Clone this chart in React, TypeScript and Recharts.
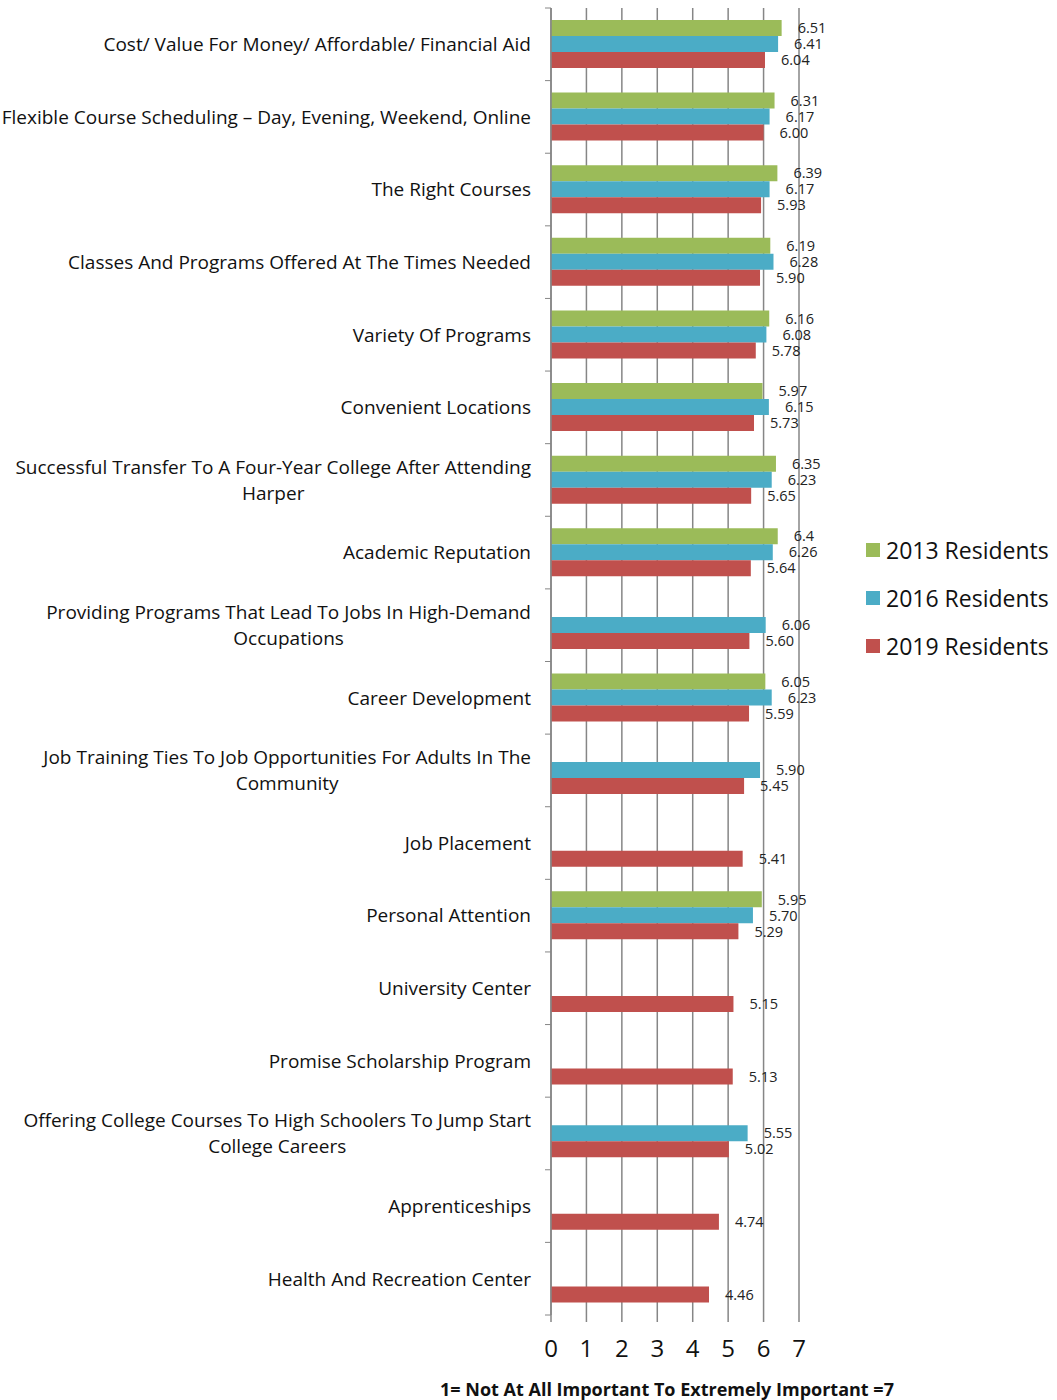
import { BarChart, Bar, XAxis, YAxis, CartesianGrid, LabelList } from 'recharts'

const CATEGORIES = [
  'Cost/ Value For Money/ Affordable/ Financial Aid',
  'Flexible Course Scheduling – Day, Evening, Weekend, Online',
  'The Right Courses',
  'Classes And Programs Offered At The Times Needed',
  'Variety Of Programs',
  'Convenient Locations',
  'Successful Transfer To A Four-Year College After Attending\nHarper',
  'Academic Reputation',
  'Providing Programs That Lead To Jobs In High-Demand\nOccupations',
  'Career Development',
  'Job Training Ties To Job Opportunities For Adults In The\nCommunity',
  'Job Placement',
  'Personal Attention',
  'University Center',
  'Promise Scholarship Program',
  'Offering College Courses To High Schoolers To Jump Start\nCollege Careers',
  'Apprenticeships',
  'Health And Recreation Center',
]

const RES_2013 = [6.51, 6.31, 6.39, 6.19, 6.16, 5.97, 6.35, 6.4, null, 6.05, null, null, 5.95, null, null, null, null, null]
const RES_2016 = [6.41, 6.17, 6.17, 6.28, 6.08, 6.15, 6.23, 6.26, 6.06, 6.23, 5.9, null, 5.7, null, null, 5.55, null, null]
const RES_2019 = [6.04, 6.0, 5.93, 5.9, 5.78, 5.73, 5.65, 5.64, 5.6, 5.59, 5.45, 5.41, 5.29, 5.15, 5.13, 5.02, 4.74, 4.46]

const X_TICKS = [0, 1, 2, 3, 4, 5, 6, 7]
const AXIS_TITLE = '1= Not At All Important To Extremely Important =7'

const SERIES = [
  { key: 'r2013', name: '2013 Residents', color: '#9BBB59', fmt: (v: number) => String(v) },
  { key: 'r2016', name: '2016 Residents', color: '#4BACC6', fmt: (v: number) => v.toFixed(2) },
  { key: 'r2019', name: '2019 Residents', color: '#C0504D', fmt: (v: number) => v.toFixed(2) },
]

const data = CATEGORIES.map((name, i) => ({
  name,
  r2013: RES_2013[i],
  r2016: RES_2016[i],
  r2019: RES_2019[i],
}))

const FONT = '"Open Sans", "DejaVu Sans", sans-serif'
const GRID = '#868686'
const PLOT_TOP = 8
const PLOT_BOTTOM = 1315
const CAT_FONT = 19
const LINE_H = 26

let ctx: CanvasRenderingContext2D | null = null
function measure(text: string) {
  if (!ctx) ctx = document.createElement('canvas').getContext('2d')
  if (!ctx) return text.length * CAT_FONT * 0.5
  ctx.font = `${CAT_FONT}px ${FONT}`
  return ctx.measureText(text).width
}

function CategoryTick(props: any) {
  const { x, y, payload, index } = props
  const lines = String(payload.value).split('\n')
  const w = Math.max(...lines.map(measure))
  const cx = x - w / 2
  const top = y - ((lines.length - 1) * LINE_H) / 2
  const band = (PLOT_BOTTOM - PLOT_TOP) / CATEGORIES.length
  const axisX = x + 20
  return (
    <g>
      <text textAnchor="middle" fontSize={CAT_FONT} fontFamily={FONT} fill="#111">
        {lines.map((l, i) => (
          <tspan key={i} x={cx} y={top + i * LINE_H} dy="0.36em">
            {l}
          </tspan>
        ))}
      </text>
      {index === 0 && (
        <line x1={axisX - 6} x2={axisX} y1={y - band / 2} y2={y - band / 2} stroke={GRID} />
      )}
      <line x1={axisX - 6} x2={axisX} y1={y + band / 2} y2={y + band / 2} stroke={GRID} />
    </g>
  )
}

function makeLabel(fmt: (v: number) => string) {
  return (p: any) => {
    const { x, y, width, height, value } = p
    if (value == null) return null
    return (
      <text
        x={x + width + 16}
        y={y + height / 2}
        dy="0.36em"
        fontSize={14.5}
        fontFamily={FONT}
        fill="#222"
      >
        {fmt(Number(value))}
      </text>
    )
  }
}

function ChartLegend() {
  return (
    <div style={{ position: 'absolute', left: 866, top: 526, fontFamily: FONT }}>
      {SERIES.map((s) => (
        <div key={s.key} style={{ display: 'flex', alignItems: 'center', height: 48 }}>
          <span style={{ display: 'inline-block', width: 14, height: 14, background: s.color }} />
          <span style={{ marginLeft: 6, fontSize: 23, color: '#111' }}>{s.name}</span>
        </div>
      ))}
    </div>
  )
}

export default function App() {
  return (
    <div style={{ position: 'absolute', left: 0, top: 0, width: 1057, height: 1400, background: '#fff' }}>
      <BarChart
        width={1057}
        height={1400}
        data={data}
        layout="vertical"
        margin={{ top: PLOT_TOP, right: 258, bottom: 0, left: 0 }}
        barSize={16}
        barGap={0}
      >
        <CartesianGrid horizontal={false} stroke={GRID} strokeWidth={1.5} />
        <XAxis
          type="number"
          domain={[0, 7]}
          ticks={X_TICKS}
          height={1400 - PLOT_BOTTOM}
          axisLine={false}
          tickLine={{ stroke: GRID, strokeWidth: 1.5 }}
          tickSize={7}
          tickMargin={18}
          tick={{ fontSize: 24, fontFamily: FONT, fill: '#111' }}
          label={{
            value: AXIS_TITLE,
            position: 'insideBottom',
            offset: 4,
            dx: -8,
            style: { fontSize: 18, fontWeight: 700, fontFamily: FONT, fill: '#111' },
          }}
        />
        <YAxis
          type="category"
          dataKey="name"
          width={551}
          axisLine={{ stroke: GRID, strokeWidth: 1.5 }}
          tickLine={false}
          tickSize={0}
          tickMargin={20}
          tick={<CategoryTick />}
          interval={0}
        />
        {SERIES.map((s) => (
          <Bar key={s.key} dataKey={s.key} name={s.name} fill={s.color} isAnimationActive={false}>
            <LabelList dataKey={s.key} content={makeLabel(s.fmt)} />
          </Bar>
        ))}
      </BarChart>
      <ChartLegend />
    </div>
  )
}
